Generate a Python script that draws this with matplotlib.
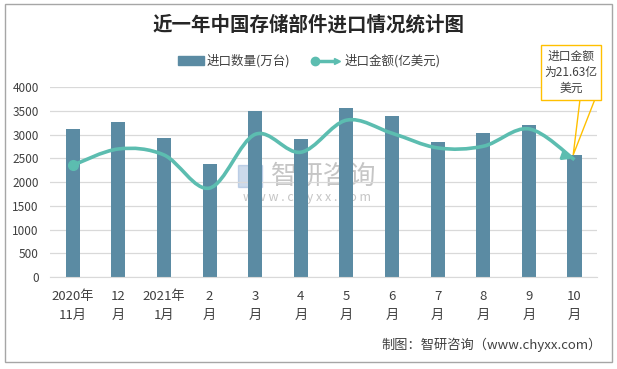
import numpy as np
import matplotlib.pyplot as plt
from matplotlib.path import Path
from matplotlib.patches import PathPatch, Rectangle, Polygon
from matplotlib.lines import Line2D

plt.rcParams['font.family'] = ['Noto Sans CJK SC', 'DejaVu Sans']

months = ['2020年\n11月', '12\n月', '2021年\n1月', '2\n月', '3\n月', '4\n月',
          '5\n月', '6\n月', '7\n月', '8\n月', '9\n月', '10\n月']
qty = [3120, 3270, 2920, 2390, 3500, 2910, 3570, 3400, 2850, 3040, 3210, 2570]
amount = [20.6, 23.6, 22.5, 16.4, 26.3, 23.0, 28.9, 26.5, 23.8, 24.1, 27.3, 21.63]

bar_color = '#5B8BA3'
line_color = '#5CBDB0'
txt_color = '#404040'

fig = plt.figure(figsize=(6.17, 3.69), dpi=100)
fig.patches.append(Rectangle((0.008, 0.02), 0.984, 0.97, transform=fig.transFigure,
                             fill=False, edgecolor='#a6a6a6', lw=1))

ax = fig.add_axes([0.081, 0.249, 0.887, 0.515])
x = np.arange(len(months))
ax.bar(x, qty, width=0.31, color=bar_color, zorder=2)
ax.set_xlim(-0.5, len(months) - 0.5)
ax.set_ylim(0, 4000)
ax.set_yticks(range(0, 4001, 500))
ax.grid(axis='y', color='#d9d9d9', lw=0.9, zorder=0)
for s in ['top', 'right', 'left']:
    ax.spines[s].set_visible(False)
ax.spines['bottom'].set_color('#d9d9d9')
ax.tick_params(length=0, labelsize=8.5, colors=txt_color)
ax.tick_params(axis='y', pad=8)
ax.set_xticks(x)
ax.set_xticklabels(months, fontsize=9.5, linespacing=1.6)
ax.tick_params(axis='x', pad=9)

# watermark (behind the bars)
ax.add_patch(Rectangle((0.386, 0.493), 0.038, 0.06, transform=fig.transFigure,
                       color='#6f95c8', alpha=0.35, zorder=1))
ax.text(0.525, 0.523, '智研咨询', transform=fig.transFigure, ha='center', va='center',
        fontsize=19, color='#8c8c8c', alpha=0.5, zorder=1)
ax.text(0.497, 0.466, 'w w w . c h y x x . c o m', transform=fig.transFigure,
        ha='center', va='center', fontsize=9, color='#8c8c8c', alpha=0.5, zorder=1)

# smoothed amount line on hidden secondary axis
ax2 = ax.twinx()
ax2.set_ylim(0, 35)
ax2.axis('off')
pts = np.column_stack([x, amount]).astype(float)
verts = [tuple(pts[0])]
codes = [Path.MOVETO]
n = len(pts)
for i in range(n - 1):
    p0 = pts[max(i - 1, 0)]
    p1 = pts[i]
    p2 = pts[i + 1]
    p3 = pts[min(i + 2, n - 1)]
    c1 = p1 + (p2 - p0) / 6
    c2 = p2 - (p3 - p1) / 6
    verts += [tuple(c1), tuple(c2), tuple(p2)]
    codes += [Path.CURVE4] * 3
ax2.add_patch(PathPatch(Path(verts, codes), fill=False, edgecolor=line_color,
                        lw=2.6, zorder=3))
ax2.plot(x[0], amount[0], 'o', color=line_color, ms=7, zorder=4)
ax2.annotate('', xy=(x[-1], amount[-1]), xytext=(x[-1] - 0.25, amount[-1] + 0.75),
             arrowprops=dict(arrowstyle='-|>', color=line_color, lw=2.2,
                             mutation_scale=12))

# title
fig.text(0.5, 0.932, '近一年中国存储部件进口情况统计图', ha='center', va='center',
         fontsize=14, fontweight='bold', color='#262626')

# legend
fig.patches.append(Rectangle((0.288, 0.825), 0.042, 0.022, transform=fig.transFigure,
                             color=bar_color))
fig.text(0.335, 0.835, '进口数量(万台)', ha='left', va='center', fontsize=9, color=txt_color)
fig.lines.append(Line2D([0.51, 0.545], [0.835, 0.835], transform=fig.transFigure,
                        color=line_color, lw=2.5, marker='o', markevery=[0], ms=6))
fig.lines.append(Line2D([0.547], [0.835], transform=fig.transFigure,
                        color=line_color, marker='>', ms=5))
fig.text(0.559, 0.835, '进口金额(亿美元)', ha='left', va='center', fontsize=9, color=txt_color)

# callout
fig.patches.append(Polygon([(0.940, 0.73), (0.929, 0.58), (0.964, 0.73)],
                           closed=False, transform=fig.transFigure, fill=False,
                           edgecolor='#FFC000', lw=1))
fig.patches.append(Rectangle((0.877, 0.729), 0.097, 0.149, transform=fig.transFigure,
                             facecolor='white', edgecolor='#FFC000', lw=1, zorder=5))
fig.text(0.9255, 0.803, '进口金额\n为21.63亿\n美元', ha='center', va='center', fontsize=8.5,
         color=txt_color, linespacing=1.3, zorder=6)

# source
fig.text(0.975, 0.065, '制图：智研咨询（www.chyxx.com）', ha='right', va='center',
         fontsize=9.5, color=txt_color)

plt.savefig('out.png', dpi=100)
